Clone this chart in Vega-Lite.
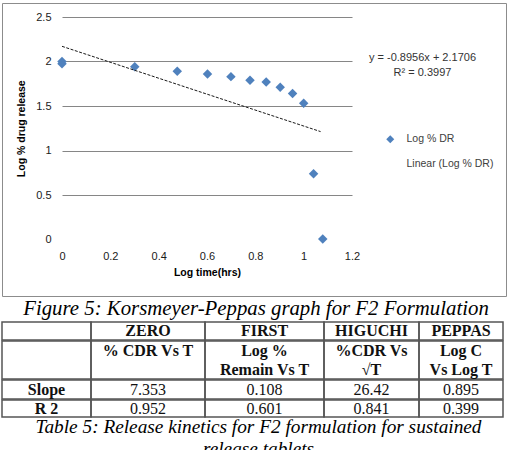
{
  "$schema": "https://vega.github.io/schema/vega-lite/v6.json",
  "padding": {"left": 1, "top": 2, "right": 0, "bottom": 0},
  "background": "white",
  "config": {"view": {"stroke": null}, "concat": {"spacing": 0}},
  "spacing": 1,
  "datasets": {
    "release": [
      {"x": 0, "y": 2.0, "series": "Log % DR"},
      {"x": 0, "y": 1.975, "series": "Log % DR"},
      {"x": 0.301, "y": 1.94, "series": "Log % DR"},
      {"x": 0.477, "y": 1.89, "series": "Log % DR"},
      {"x": 0.602, "y": 1.86, "series": "Log % DR"},
      {"x": 0.699, "y": 1.83, "series": "Log % DR"},
      {"x": 0.778, "y": 1.79, "series": "Log % DR"},
      {"x": 0.845, "y": 1.77, "series": "Log % DR"},
      {"x": 0.903, "y": 1.71, "series": "Log % DR"},
      {"x": 0.954, "y": 1.64, "series": "Log % DR"},
      {"x": 1.0, "y": 1.53, "series": "Log % DR"},
      {"x": 1.041, "y": 0.74, "series": "Log % DR"},
      {"x": 1.079, "y": 0.005, "series": "Log % DR"}
    ],
    "trend": [
      {"x": 0, "y": 2.1706},
      {"x": 1.07, "y": 1.2123}
    ],
    "annot": [
      {"x": 1.4917, "y": 2.039, "label": ["y = -0.8956x + 2.1706", "R² = 0.3997"]}
    ],
    "cells": [
      {"r": 0, "c": 0, "t": ""},
      {"r": 0, "c": 1, "t": "ZERO"},
      {"r": 0, "c": 2, "t": "FIRST"},
      {"r": 0, "c": 3, "t": "HIGUCHI"},
      {"r": 0, "c": 4, "t": "PEPPAS"},
      {"r": 1, "c": 0, "t": ""},
      {"r": 1, "c": 1, "t": "% CDR Vs T"},
      {"r": 1, "c": 2, "t": ["Log %", "Remain Vs T"]},
      {"r": 1, "c": 3, "t": ["%CDR Vs", "√T"]},
      {"r": 1, "c": 4, "t": ["Log C", "Vs Log T"]},
      {"r": 2, "c": 0, "t": "Slope"},
      {"r": 2, "c": 1, "t": "7.353"},
      {"r": 2, "c": 2, "t": "0.108"},
      {"r": 2, "c": 3, "t": "26.42"},
      {"r": 2, "c": 4, "t": "0.895"},
      {"r": 3, "c": 0, "t": "R 2"},
      {"r": 3, "c": 1, "t": "0.952"},
      {"r": 3, "c": 2, "t": "0.601"},
      {"r": 3, "c": 3, "t": "0.841"},
      {"r": 3, "c": 4, "t": "0.399"}
    ]
  },
  "vconcat": [
    {
      "width": 504,
      "height": 293,
      "view": {"stroke": "#8c8c8c", "strokeWidth": 1},
      "title": {
        "text": "Figure 5:  Korsmeyer-Peppas graph for F2 Formulation",
        "orient": "bottom", "anchor": "middle", "offset": 3, "dx": 2,
        "font": "Liberation Serif", "fontStyle": "italic", "fontWeight": "normal",
        "fontSize": 20.8, "color": "#000"
      },
      "encoding": {
        "x": {
          "field": "x", "type": "quantitative",
          "scale": {"domain": [0, 1.2], "range": [60, 350], "nice": false, "zero": false},
          "axis": {
            "values": [0, 0.2, 0.4, 0.6, 0.8, 1, 1.2], "format": "~g",
            "title": "Log time(hrs)", "orient": "bottom", "offset": -46,
            "domain": false, "ticks": false, "tickSize": 0, "labelPadding": 0, "grid": false,
            "labelFont": "Liberation Sans", "labelFontSize": 11, "labelColor": "#1a1a1a",
            "labelFlush": false,
            "titleFont": "Liberation Sans", "titleFontSize": 10.5, "titleFontWeight": "bold",
            "titleColor": "#000", "titlePadding": 6
          }
        },
        "y": {
          "field": "y", "type": "quantitative",
          "scale": {"domain": [0, 2.5], "range": [236.5, 14], "nice": false, "zero": false},
          "axis": {
            "values": [0, 0.5, 1, 1.5, 2, 2.5], "format": "~g",
            "title": "Log % drug release", "orient": "left", "offset": -49,
            "domain": false, "ticks": false, "tickSize": 0, "labelPadding": 0,
            "labelFont": "Liberation Sans", "labelFontSize": 11, "labelColor": "#1a1a1a",
            "labelFlush": false,
            "grid": true, "gridColor": "#868686", "gridWidth": 1,
            "gridOpacity": {"condition": {"test": "datum.value === 0", "value": 0}, "value": 1},
            "titleFont": "Liberation Sans", "titleFontSize": 10.5, "titleFontWeight": "bold",
            "titleColor": "#000", "titlePadding": 9
          }
        }
      },
      "layer": [
        {
          "data": {"name": "release"},
          "mark": {"type": "point", "shape": "diamond", "filled": true, "size": 90, "opacity": 1},
          "encoding": {
            "color": {
              "field": "series", "type": "nominal",
              "scale": {"domain": ["Log % DR", "Linear (Log % DR)"], "range": ["#4F81BD", "rgba(0,0,0,0)"]},
              "legend": {
                "orient": "none", "legendX": 383, "legendY": 131, "title": null,
                "symbolType": "diamond", "symbolSize": 64, "padding": 0,
                "labelFont": "Liberation Sans", "labelFontSize": 10.5, "labelColor": "#404040",
                "rowPadding": 14, "labelOffset": 11, "symbolStrokeWidth": 0
              }
            }
          }
        },
        {
          "data": {"name": "trend"},
          "mark": {"type": "line", "color": "#1a1a1a", "strokeWidth": 1, "strokeDash": [3, 1.5]},
          "encoding": {}
        },
        {
          "data": {"name": "annot"},
          "mark": {
            "type": "text", "font": "Liberation Sans", "fontSize": 11, "color": "#333",
            "lineHeight": 15, "align": "center", "baseline": "middle"
          },
          "encoding": {"text": {"field": "label"}}
        }
      ]
    },
    {
      "title": {
        "text": ["Table 5: Release kinetics for F2 formulation for sustained", "release tablets"],
        "orient": "bottom", "anchor": "middle", "offset": 0, "dx": 6,
        "font": "Liberation Serif", "fontStyle": "italic", "fontWeight": "normal",
        "fontSize": 19.3, "lineHeight": 22, "color": "#000"
      },
      "spacing": -1.5,
      "vconcat": [
        {
          "spacing": 0, "bounds": "flush",
          "hconcat": [
            {"width": 89, "height": 18, "view": {"stroke": "#555", "strokeWidth": 1.5}, "data": {"name": "cells"}, "transform": [{"filter": "datum.r == 0 && datum.c == 0"}], "mark": {"type": "text", "font": "Liberation Serif", "fontSize": 16, "fontWeight": "bold", "color": "#111"}, "encoding": {"text": {"field": "t"}}},
            {"width": 114, "height": 18, "view": {"stroke": "#555", "strokeWidth": 1.5}, "data": {"name": "cells"}, "transform": [{"filter": "datum.r == 0 && datum.c == 1"}], "mark": {"type": "text", "font": "Liberation Serif", "fontSize": 16, "fontWeight": "bold", "color": "#111"}, "encoding": {"text": {"field": "t"}}},
            {"width": 119, "height": 18, "view": {"stroke": "#555", "strokeWidth": 1.5}, "data": {"name": "cells"}, "transform": [{"filter": "datum.r == 0 && datum.c == 2"}], "mark": {"type": "text", "font": "Liberation Serif", "fontSize": 16, "fontWeight": "bold", "color": "#111"}, "encoding": {"text": {"field": "t"}}},
            {"width": 95, "height": 18, "view": {"stroke": "#555", "strokeWidth": 1.5}, "data": {"name": "cells"}, "transform": [{"filter": "datum.r == 0 && datum.c == 3"}], "mark": {"type": "text", "font": "Liberation Serif", "fontSize": 16, "fontWeight": "bold", "color": "#111"}, "encoding": {"text": {"field": "t"}}},
            {"width": 84, "height": 18, "view": {"stroke": "#555", "strokeWidth": 1.5}, "data": {"name": "cells"}, "transform": [{"filter": "datum.r == 0 && datum.c == 4"}], "mark": {"type": "text", "font": "Liberation Serif", "fontSize": 16, "fontWeight": "bold", "color": "#111"}, "encoding": {"text": {"field": "t"}}}
          ]
        },
        {
          "spacing": 0, "bounds": "flush",
          "hconcat": [
            {"width": 89, "height": 38, "view": {"stroke": "#555", "strokeWidth": 1.5}, "data": {"name": "cells"}, "transform": [{"filter": "datum.r == 1 && datum.c == 0"}], "mark": {"type": "text", "font": "Liberation Serif", "fontSize": 16, "fontWeight": "bold", "color": "#111", "lineHeight": 19, "dy": -9}, "encoding": {"text": {"field": "t"}}},
            {"width": 114, "height": 38, "view": {"stroke": "#555", "strokeWidth": 1.5}, "data": {"name": "cells"}, "transform": [{"filter": "datum.r == 1 && datum.c == 1"}], "mark": {"type": "text", "font": "Liberation Serif", "fontSize": 16, "fontWeight": "bold", "color": "#111", "lineHeight": 19, "dy": -9}, "encoding": {"text": {"field": "t"}}},
            {"width": 119, "height": 38, "view": {"stroke": "#555", "strokeWidth": 1.5}, "data": {"name": "cells"}, "transform": [{"filter": "datum.r == 1 && datum.c == 2"}], "mark": {"type": "text", "font": "Liberation Serif", "fontSize": 16, "fontWeight": "bold", "color": "#111", "lineHeight": 19, "dy": -9}, "encoding": {"text": {"field": "t"}}},
            {"width": 95, "height": 38, "view": {"stroke": "#555", "strokeWidth": 1.5}, "data": {"name": "cells"}, "transform": [{"filter": "datum.r == 1 && datum.c == 3"}], "mark": {"type": "text", "font": "Liberation Serif", "fontSize": 16, "fontWeight": "bold", "color": "#111", "lineHeight": 19, "dy": -9}, "encoding": {"text": {"field": "t"}}},
            {"width": 84, "height": 38, "view": {"stroke": "#555", "strokeWidth": 1.5}, "data": {"name": "cells"}, "transform": [{"filter": "datum.r == 1 && datum.c == 4"}], "mark": {"type": "text", "font": "Liberation Serif", "fontSize": 16, "fontWeight": "bold", "color": "#111", "lineHeight": 19, "dy": -9}, "encoding": {"text": {"field": "t"}}}
          ]
        },
        {
          "spacing": 0, "bounds": "flush",
          "hconcat": [
            {"width": 89, "height": 19, "view": {"stroke": "#555", "strokeWidth": 1.5}, "data": {"name": "cells"}, "transform": [{"filter": "datum.r == 2 && datum.c == 0"}], "mark": {"type": "text", "font": "Liberation Serif", "fontSize": 16, "fontWeight": "bold", "color": "#111"}, "encoding": {"text": {"field": "t"}}},
            {"width": 114, "height": 19, "view": {"stroke": "#555", "strokeWidth": 1.5}, "data": {"name": "cells"}, "transform": [{"filter": "datum.r == 2 && datum.c == 1"}], "mark": {"type": "text", "font": "Liberation Serif", "fontSize": 16, "fontWeight": "normal", "color": "#111"}, "encoding": {"text": {"field": "t"}}},
            {"width": 119, "height": 19, "view": {"stroke": "#555", "strokeWidth": 1.5}, "data": {"name": "cells"}, "transform": [{"filter": "datum.r == 2 && datum.c == 2"}], "mark": {"type": "text", "font": "Liberation Serif", "fontSize": 16, "fontWeight": "normal", "color": "#111"}, "encoding": {"text": {"field": "t"}}},
            {"width": 95, "height": 19, "view": {"stroke": "#555", "strokeWidth": 1.5}, "data": {"name": "cells"}, "transform": [{"filter": "datum.r == 2 && datum.c == 3"}], "mark": {"type": "text", "font": "Liberation Serif", "fontSize": 16, "fontWeight": "normal", "color": "#111"}, "encoding": {"text": {"field": "t"}}},
            {"width": 84, "height": 19, "view": {"stroke": "#555", "strokeWidth": 1.5}, "data": {"name": "cells"}, "transform": [{"filter": "datum.r == 2 && datum.c == 4"}], "mark": {"type": "text", "font": "Liberation Serif", "fontSize": 16, "fontWeight": "normal", "color": "#111"}, "encoding": {"text": {"field": "t"}}}
          ]
        },
        {
          "spacing": 0, "bounds": "flush",
          "hconcat": [
            {"width": 89, "height": 17, "view": {"stroke": "#555", "strokeWidth": 1.5}, "data": {"name": "cells"}, "transform": [{"filter": "datum.r == 3 && datum.c == 0"}], "mark": {"type": "text", "font": "Liberation Serif", "fontSize": 16, "fontWeight": "bold", "color": "#111"}, "encoding": {"text": {"field": "t"}}},
            {"width": 114, "height": 17, "view": {"stroke": "#555", "strokeWidth": 1.5}, "data": {"name": "cells"}, "transform": [{"filter": "datum.r == 3 && datum.c == 1"}], "mark": {"type": "text", "font": "Liberation Serif", "fontSize": 16, "fontWeight": "normal", "color": "#111"}, "encoding": {"text": {"field": "t"}}},
            {"width": 119, "height": 17, "view": {"stroke": "#555", "strokeWidth": 1.5}, "data": {"name": "cells"}, "transform": [{"filter": "datum.r == 3 && datum.c == 2"}], "mark": {"type": "text", "font": "Liberation Serif", "fontSize": 16, "fontWeight": "normal", "color": "#111"}, "encoding": {"text": {"field": "t"}}},
            {"width": 95, "height": 17, "view": {"stroke": "#555", "strokeWidth": 1.5}, "data": {"name": "cells"}, "transform": [{"filter": "datum.r == 3 && datum.c == 3"}], "mark": {"type": "text", "font": "Liberation Serif", "fontSize": 16, "fontWeight": "normal", "color": "#111"}, "encoding": {"text": {"field": "t"}}},
            {"width": 84, "height": 17, "view": {"stroke": "#555", "strokeWidth": 1.5}, "data": {"name": "cells"}, "transform": [{"filter": "datum.r == 3 && datum.c == 4"}], "mark": {"type": "text", "font": "Liberation Serif", "fontSize": 16, "fontWeight": "normal", "color": "#111"}, "encoding": {"text": {"field": "t"}}}
          ]
        }
      ]
    }
  ]
}
